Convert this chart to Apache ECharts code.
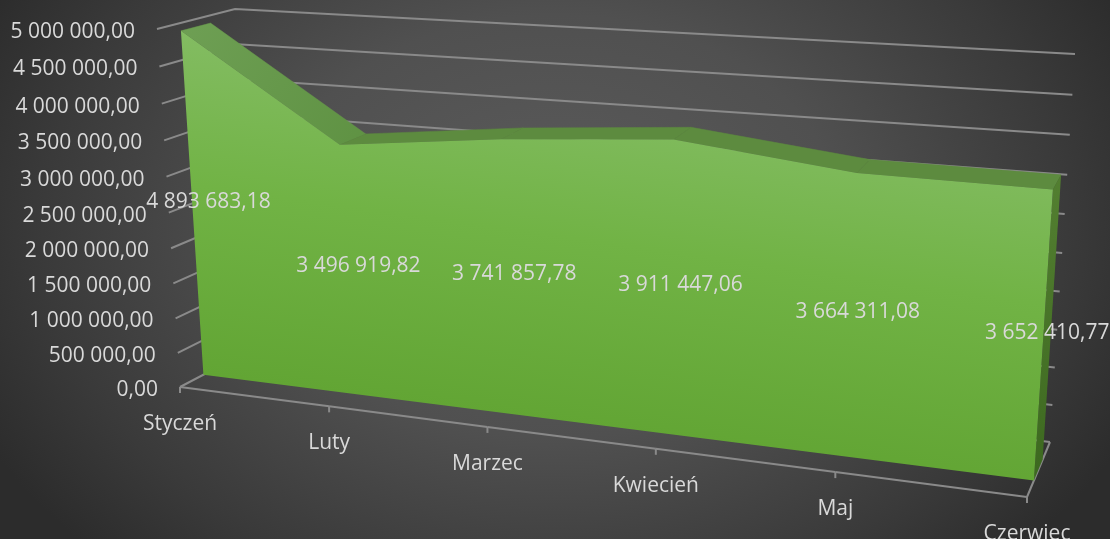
<!DOCTYPE html>
<html>
<head>
<meta charset="utf-8">
<style>
  html, body { margin: 0; padding: 0; height: 100%; overflow: hidden; }
  body { background: radial-gradient(ellipse 640px 470px at 50% 42%, #5c5c5c 0%, #505050 45%, #3a3a3a 80%, #2c2c2c 100%); background-color: #2c2c2c; }
  #area-chart { width: 1110px; height: 539px; }
</style>
</head>
<body>
<div id="area-chart"></div>
<script src="https://cdn.jsdelivr.net/npm/echarts@6/dist/echarts.min.js"></script>
<script>
const categories = ['Styczeń', 'Luty', 'Marzec', 'Kwiecień', 'Maj', 'Czerwiec'];
const values = [4893683.18, 3496919.82, 3741857.78, 3911447.06, 3664311.08, 3652410.77];
const valueLabels = ['4 893 683,18', '3 496 919,82', '3 741 857,78', '3 911 447,06', '3 664 311,08', '3 652 410,77'];
const yTicks = [0, 500000, 1000000, 1500000, 2000000, 2500000, 3000000, 3500000, 4000000, 4500000, 5000000];
const yTickLabels = ['0,00', '500 000,00', '1 000 000,00', '1 500 000,00', '2 000 000,00', '2 500 000,00',
  '3 000 000,00', '3 500 000,00', '4 000 000,00', '4 500 000,00', '5 000 000,00'];

// corners of the 3d box on screen: f = front, b = back, l/r, b/t
const box = {
  flb: [180, 387], flt: [157, 29], blb: [258, 346], blt: [235, 9],
  frb: [1027, 497], frt: [1054, 86], brb: [1050, 442], brt: [1075, 54],
};
const FRONT = 0.3;
const BACK = 0.68;
const FONT = '21px "Open Sans"';
const TEXT = '#d9d9d9';
const LINE = '#8a8a8a';

function mix(a, b, k) {
  return [a[0] + (b[0] - a[0]) * k, a[1] + (b[1] - a[1]) * k];
}

// grid pixel -> position in the box, depth 0 is the front of the floor
function project(params, pt, depth) {
  const rect = params.coordSys;
  const a = (pt[0] - rect.x) / rect.width;
  const b = 1 - (pt[1] - rect.y) / rect.height;
  // foreshortening
  const u = a / (1.17 - 0.17 * a);
  const v = b / (1.053 - 0.053 * b);
  const fl = mix(box.flb, box.flt, v);
  const fr = mix(box.frb, box.frt, v);
  const bl = mix(box.blb, box.blt, v);
  const br = mix(box.brb, box.brt, v);
  return mix(mix(fl, fr, u), mix(bl, br, u), depth);
}

function line(points, width) {
  return {
    type: 'polyline',
    shape: { points },
    style: { stroke: LINE, lineWidth: width || 2, fill: null },
  };
}

function label(text, pos, align) {
  return {
    type: 'text',
    x: pos[0],
    y: pos[1] + 3,
    style: { text, fill: TEXT, font: FONT, align: align || 'center', verticalAlign: 'middle' },
  };
}

const option = {
  animation: false,
  grid: { left: 0, right: 0, top: 0, bottom: 0 },
  xAxis: { type: 'category', data: categories, boundaryGap: false, show: false },
  yAxis: { type: 'value', min: 0, max: 5000000, interval: 500000, show: false },
  series: [
    {
      // value gridlines on the left and back walls, with tick labels
      type: 'custom',
      z: 1,
      silent: true,
      data: yTicks.map((t, i) => [0, t, i]),
      renderItem(params, api) {
        const last = categories.length - 1;
        const left = api.coord([0, api.value(1)]);
        const right = api.coord([last, api.value(1)]);
        const a = project(params, left, 0);
        const b = project(params, left, 1);
        const c = project(params, right, 1);
        return {
          type: 'group',
          children: [
            line([a, b, c]),
            label(yTickLabels[api.value(2)], [a[0] - 22, a[1]], 'right'),
          ],
        };
      },
    },
    {
      // floor edges, category ticks and category labels
      type: 'custom',
      z: 1,
      silent: true,
      data: categories.map((c, i) => [i, 0]),
      renderItem(params, api) {
        const i = api.value(0);
        const pt = api.coord([i, 0]);
        const p = project(params, pt, 0);
        const children = [
          line([p, [p[0], p[1] + 6]]),
          label(categories[i], [p[0], p[1] + 34]),
        ];
        if (i < categories.length - 1) {
          children.push(line([p, project(params, api.coord([i + 1, 0]), 0)]));
        } else {
          children.push(line([p, project(params, pt, 1)]));
        }
        return { type: 'group', children };
      },
    },
    {
      // top of the area, one ribbon per segment
      type: 'custom',
      z: 2,
      silent: true,
      data: values.map((v, i) => [i, v]),
      renderItem(params, api) {
        const i = api.value(0);
        if (i === values.length - 1) return null;
        const p1 = api.coord([i, api.value(1)]);
        const p2 = api.coord([i + 1, values[i + 1]]);
        const fill = i === 0
          ? new echarts.graphic.LinearGradient(0, 0, 1, 1, [
            { offset: 0, color: '#6e9f54' },
            { offset: 1, color: '#5f9243' },
          ])
          : '#5d8b3f';
        return {
          type: 'polygon',
          shape: {
            points: [
              project(params, p1, FRONT), project(params, p2, FRONT),
              project(params, p2, BACK), project(params, p1, BACK),
            ],
          },
          style: { fill, stroke: fill === '#5d8b3f' ? fill : '#66984a', lineWidth: 0.5 },
        };
      },
    },
    {
      // front face and right side of the area, drawn once
      type: 'custom',
      z: 3,
      silent: true,
      data: [[0, 0]],
      renderItem(params, api) {
        const last = values.length - 1;
        const top = values.map((v, i) => project(params, api.coord([i, v]), FRONT));
        const endTop = api.coord([last, values[last]]);
        const endBottom = api.coord([last, 0]);
        const front = top.concat([
          project(params, endBottom, FRONT),
          project(params, api.coord([0, 0]), FRONT),
        ]);
        return {
          type: 'group',
          children: [
            {
              type: 'polygon',
              shape: {
                points: [
                  project(params, endTop, FRONT), project(params, endTop, BACK),
                  project(params, endBottom, BACK), project(params, endBottom, FRONT),
                ],
              },
              style: {
                fill: new echarts.graphic.LinearGradient(0, 174, 0, 470, [
                  { offset: 0, color: '#537f31' },
                  { offset: 1, color: '#3d6920' },
                ], true),
              },
            },
            {
              type: 'polygon',
              shape: { points: front },
              style: {
                fill: new echarts.graphic.LinearGradient(183, 30, 136, 364, [
                  { offset: 0, color: '#83bc62' },
                  { offset: 0.45, color: '#71b345' },
                  { offset: 1, color: '#62a534' },
                ], true),
              },
            },
          ],
        };
      },
    },
    {
      // value labels, halfway up the front face
      type: 'custom',
      z: 4,
      silent: true,
      data: values.map((v, i) => [i, v]),
      renderItem(params, api) {
        const i = api.value(0);
        const p = project(params, api.coord([i, api.value(1) / 2]), FRONT);
        const k = i / (values.length - 1);
        return label(valueLabels[i], [p[0] + 16 - 12 * k, p[1] - 8]);
      },
    },
  ],
};

const chart = echarts.init(document.getElementById('area-chart'));
chart.setOption(option);
</script>
</body>
</html>
